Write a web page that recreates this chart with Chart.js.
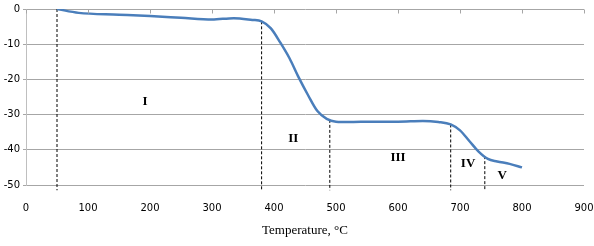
<!DOCTYPE html>
<html lang="en">
<head>
  <meta charset="UTF-8">
  <title>Mass loss curve</title>
  <script src="https://cdn.jsdelivr.net/npm/chart.js"></script>
  <style>
    html, body { margin: 0; padding: 0; background: white; }
    #wrap { width: 594px; height: 246px; }
  </style>
</head>
<body>
  <div id="wrap"><canvas id="tgChart" width="594" height="246"></canvas></div>

  <script>
    // curve values
    const temperature = [50, 85, 150, 200, 250, 300, 335, 365, 380, 395, 410, 425, 440, 455, 470, 485, 500, 520, 560, 600, 640, 665, 685, 700, 715, 730, 745, 760, 780, 800];
    const massLoss = [0, -1.1, -1.6, -2.0, -2.5, -3.0, -2.6, -3.1, -3.5, -5.5, -9.5, -14, -19.5, -24.5, -29, -31.2, -32, -32.1, -32, -32, -31.8, -32.1, -32.8, -34.5, -37.5, -40.5, -42.6, -43.3, -44, -45];

    // stage boundaries (dashed lines): x, top y
    const boundaryX = [50, 380, 490, 685, 740];
    const boundaryTop = [0, -3.5, -31.5, -32.8, -41.8];
    const boundaryBottom = -51.5;

    // stage labels
    const stageLabels = ['I', 'II', 'III', 'IV', 'V'];
    const stageX = [192, 431, 600, 713, 768];
    const stageY = [-26.3, -36.9, -42.2, -43.9, -47.2];

    const xTicks = [0, 100, 200, 300, 400, 500, 600, 700, 800, 900];
    const yTicks = [0, -10, -20, -30, -40, -50];

    const datasets = [{
      data: temperature.map((t, i) => ({ x: t, y: massLoss[i] })),
      borderColor: '#4a7ebb',
      borderWidth: 2.5,
      pointRadius: 0,
      showLine: true,
      tension: 0.4,
      cubicInterpolationMode: 'monotone',
      order: 0
    }];
    boundaryX.forEach((bx, i) => {
      datasets.push({
        data: [{ x: bx, y: boundaryTop[i] }, { x: bx, y: boundaryBottom }],
        borderColor: '#000000',
        borderWidth: 1,
        borderDash: [3, 2],
        pointRadius: 0,
        showLine: true,
        clip: false,
        order: 1
      });
    });

    const stagePlugin = {
      id: 'stages',
      afterDatasetsDraw(chart) {
        const { ctx, scales } = chart;
        ctx.save();
        // tick marks along the horizontal axis at y = 0
        ctx.strokeStyle = '#a6a6a6';
        ctx.lineWidth = 1;
        const y0 = Math.round(scales.y.getPixelForValue(0)) + 0.5;
        xTicks.forEach(t => {
          const px = Math.round(scales.x.getPixelForValue(t)) + 0.5;
          ctx.beginPath();
          ctx.moveTo(px, y0);
          ctx.lineTo(px, y0 + 4);
          ctx.stroke();
        });
        ctx.fillStyle = '#000000';
        ctx.font = 'bold 13px "Liberation Serif"';
        ctx.textAlign = 'center';
        ctx.textBaseline = 'middle';
        stageLabels.forEach((s, i) => {
          ctx.fillText(s, scales.x.getPixelForValue(stageX[i]), scales.y.getPixelForValue(stageY[i]));
        });
        ctx.restore();
      }
    };

    const ctx = document.getElementById('tgChart').getContext('2d');
    new Chart(ctx, {
      type: 'scatter',
      data: { datasets },
      options: {
        responsive: false,
        animation: false,
        layout: { padding: { top: 6, right: 0, left: 0, bottom: 4 } },
        plugins: {
          legend: { display: false },
          tooltip: { enabled: false }
        },
        scales: {
          x: {
            type: 'linear',
            min: 0,
            max: 900,
            afterBuildTicks(scale) { scale.ticks = xTicks.map(v => ({ value: v })); },
            afterFit(scale) { scale.height = 57; scale.paddingRight = 10; scale.paddingLeft = 0; },
            grid: { display: false },
            border: { display: false },
            ticks: { color: '#000000', padding: 9, font: { family: 'DejaVu Sans', size: 10 } },
            title: {
              display: true,
              text: 'Temperature, °C',
              color: '#000000',
              font: { family: 'Liberation Serif', size: 13 },
              padding: { top: 3 }
            }
          },
          y: {
            min: -50,
            max: 0,
            afterBuildTicks(scale) { scale.ticks = yTicks.map(v => ({ value: v })); },
            afterFit(scale) { scale.width = 26; },
            grid: { color: '#a6a6a6', drawTicks: true, tickLength: 3 },
            border: { display: true, color: '#bfbfbf' },
            ticks: { color: '#000000', padding: 3, font: { family: 'DejaVu Sans', size: 10 } }
          }
        }
      },
      plugins: [stagePlugin]
    });
  </script>
</body>
</html>
